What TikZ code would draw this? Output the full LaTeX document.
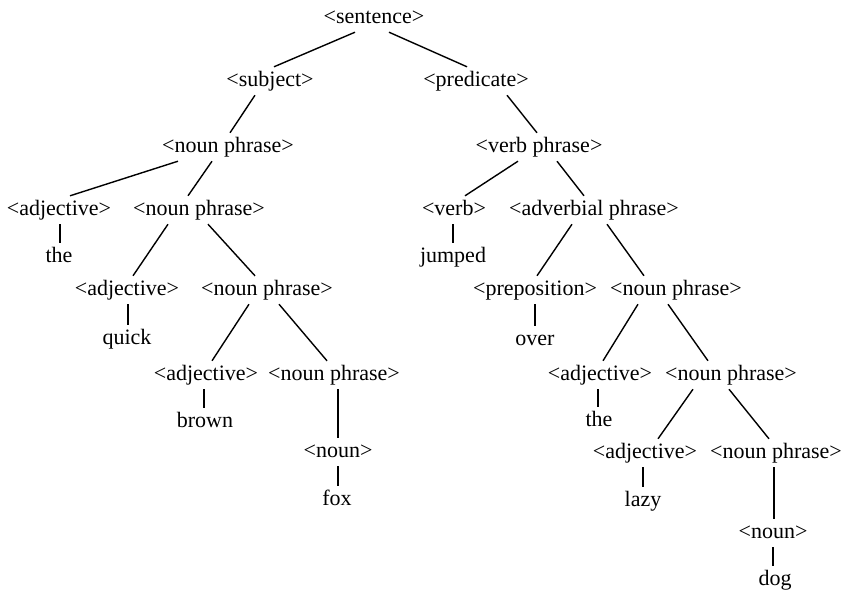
\documentclass[tikz,border=0pt]{standalone}
\usepackage{fontspec}
\setmainfont{Liberation Serif}
\begin{document}
\begin{tikzpicture}[x=1pt,y=-1pt,
  lab/.style={inner xsep=0pt, inner ysep=3pt, text height=16pt, text depth=6pt,
              font=\fontsize{22}{26}\selectfont},
  edge/.style={line width=1.4pt}]
\useasboundingbox (0,0) rectangle (849,590);

% phrase-structure nodes
\node[lab] (s)     at (374,18)  {<sentence>};
\node[lab] (subj)  at (270,81)  {<subject>};
\node[lab] (pred)  at (476,81)  {<predicate>};
\node[lab] (npa)   at (228,147) {<noun phrase>};
\node[lab] (vp)    at (539,147) {<verb phrase>};
\node[lab] (adja)  at (59,210)  {<adjective>};
\node[lab] (npb)   at (199,210) {<noun phrase>};
\node[lab] (verb)  at (454,210) {<verb>};
\node[lab] (advp)  at (594,210) {<adverbial phrase>};
\node[lab] (adjb)  at (127,290) {<adjective>};
\node[lab] (npc)   at (267,290) {<noun phrase>};
\node[lab] (prep)  at (535,290) {<preposition>};
\node[lab] (npr)   at (676,290) {<noun phrase>};
\node[lab] (adjc)  at (206,375) {<adjective>};
\node[lab] (npd)   at (334,375) {<noun phrase>};
\node[lab] (adjd)  at (600,375) {<adjective>};
\node[lab] (nprb)  at (731,375) {<noun phrase>};
\node[lab] (nouna) at (338,452) {<noun>};
\node[lab] (adje)  at (645,453) {<adjective>};
\node[lab] (nprc)  at (776,453) {<noun phrase>};
\node[lab] (nounb) at (773,533) {<noun>};

% terminal words
\node[lab] (the)    at (59,257)  {the};
\node[lab] (jumped) at (453,257) {jumped};
\node[lab] (quick)  at (127,339) {quick};
\node[lab] (over)   at (535,340) {over};
\node[lab] (brown)  at (205,422) {brown};
\node[lab] (theb)   at (599,421) {the};
\node[lab] (fox)    at (337,500) {fox};
\node[lab] (lazy)   at (643,501) {lazy};
\node[lab] (dog)    at (775,580) {dog};

% branches
\draw[edge] ([xshift=-19pt]s.south)    -- ([xshift=4pt]subj.north);
\draw[edge] ([xshift=15pt]s.south)     -- ([xshift=-9pt]pred.north);
\draw[edge] ([xshift=-15pt]subj.south) -- ([xshift=2pt]npa.north);
\draw[edge] ([xshift=31pt]pred.south)  -- ([xshift=-2pt]vp.north);
\draw[edge] ([xshift=-50pt]npa.south)  -- ([xshift=11pt]adja.north);
\draw[edge] ([xshift=-16pt]npa.south)  -- ([xshift=-11pt]npb.north);
\draw[edge] ([xshift=-21pt]vp.south)   -- ([xshift=11pt]verb.north);
\draw[edge] ([xshift=18pt]vp.south)    -- ([xshift=-10pt]advp.north);
\draw[edge] ([xshift=-31pt]npb.south)  -- ([xshift=6pt]adjb.north);
\draw[edge] ([xshift=9pt]npb.south)    -- ([xshift=-12pt]npc.north);
\draw[edge] ([xshift=-22pt]advp.south) -- ([xshift=2pt]prep.north);
\draw[edge] ([xshift=13pt]advp.south)  -- ([xshift=-32pt]npr.north);
\draw[edge] ([xshift=-18pt]npc.south)  -- ([xshift=6pt]adjc.north);
\draw[edge] ([xshift=12pt]npc.south)   -- ([xshift=-7pt]npd.north);
\draw[edge] ([xshift=-38pt]npr.south)  -- ([xshift=3pt]adjd.north);
\draw[edge] ([xshift=-8pt]npr.south)   -- ([xshift=-23pt]nprb.north);
\draw[edge] ([xshift=-38pt]nprb.south) -- ([xshift=13pt]adje.north);
\draw[edge] ([xshift=-2pt]nprb.south)  -- ([xshift=-7pt]nprc.north);
\draw[edge] ([xshift=4pt]npd.south)    -- (nouna.north);
\draw[edge] ([xshift=-2pt]nprc.south)  -- ([xshift=1pt]nounb.north);

% words under their categories
\draw[edge] ([xshift=1pt]adja.south)  -- ([xshift=1pt]the.north);
\draw[edge] ([xshift=1pt]adjb.south)  -- ([xshift=1pt]quick.north);
\draw[edge] ([xshift=-1pt]verb.south) -- (jumped.north);
\draw[edge] (prep.south)              -- (over.north);
\draw[edge] ([xshift=-2pt]adjc.south) -- ([xshift=-1pt]brown.north);
\draw[edge] ([xshift=-2pt]adjd.south) -- ([xshift=-1pt]theb.north);
\draw[edge] ([xshift=-2pt]adje.south) -- (lazy.north);
\draw[edge] (nouna.south)             -- ([xshift=1pt]fox.north);
\draw[edge] (nounb.south)             -- ([xshift=-2pt]dog.north);
\end{tikzpicture}
\end{document}
